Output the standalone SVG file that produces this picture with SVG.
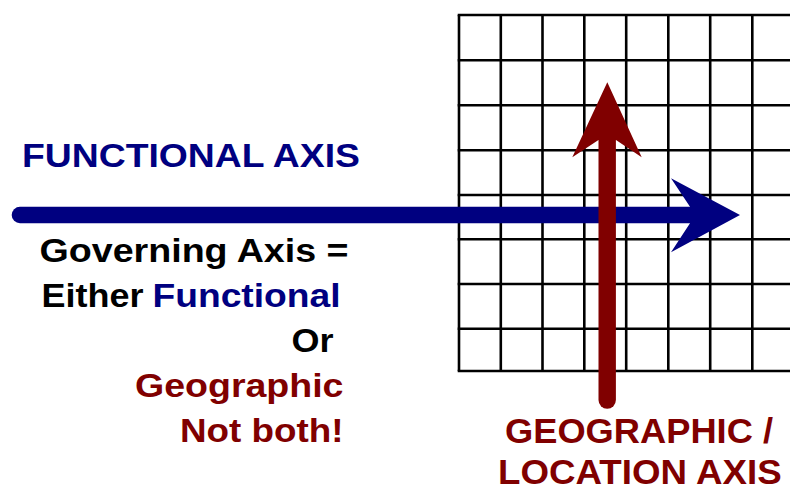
<svg xmlns="http://www.w3.org/2000/svg" width="790" height="490" viewBox="0 0 790 490">
<style>
.t{font-family:"Liberation Sans",Arial,sans-serif;font-weight:bold;}
.blue{fill:#000080;}
.red{fill:#800000;}
.blk{fill:#000000;}
.grid line{stroke:#000;stroke-width:2.6;}
</style>
<rect width="790" height="490" fill="#ffffff"/>
<g id="grid" class="grid">
<line x1="459" y1="15" x2="459" y2="371"/>
<line x1="500.8" y1="15" x2="500.8" y2="371"/>
<line x1="542.5" y1="15" x2="542.5" y2="371"/>
<line x1="584.3" y1="15" x2="584.3" y2="371"/>
<line x1="626.2" y1="15" x2="626.2" y2="371"/>
<line x1="668.3" y1="15" x2="668.3" y2="371"/>
<line x1="710.2" y1="15" x2="710.2" y2="371"/>
<line x1="752.3" y1="15" x2="752.3" y2="371"/>
<line x1="457.7" y1="15" x2="790" y2="15"/>
<line x1="457.7" y1="60.3" x2="790" y2="60.3"/>
<line x1="457.7" y1="105.3" x2="790" y2="105.3"/>
<line x1="457.7" y1="150.3" x2="790" y2="150.3"/>
<line x1="457.7" y1="195" x2="790" y2="195"/>
<line x1="457.7" y1="239.3" x2="790" y2="239.3"/>
<line x1="457.7" y1="284" x2="790" y2="284"/>
<line x1="457.7" y1="328.7" x2="790" y2="328.7"/>
<line x1="457.7" y1="371" x2="790" y2="371"/>
</g>
<g id="connectors">
<g id="functional-arrow">
<line x1="20" y1="215" x2="695" y2="215" stroke="#000080" stroke-width="16.6" stroke-linecap="round"/>
<polygon points="740,215 671,252.3 690,223.3 690,206.7 671,178.3" fill="#000080"/>
</g>
<g id="geographic-arrow">
<line x1="607.2" y1="400" x2="607.2" y2="135" stroke="#800000" stroke-width="17.4" stroke-linecap="round"/>
<polygon points="607.3,82.3 641.7,157.3 616,140 598.5,140 572.3,157.3" fill="#800000"/>
</g>
</g>
<g id="functional-label">
<text class="t blue" x="22" y="166.5" font-size="34" textLength="338" lengthAdjust="spacingAndGlyphs">FUNCTIONAL AXIS</text>
</g>
<g id="governing-note">
<text class="t blk" x="39.5" y="261.5" font-size="33.5" textLength="309" lengthAdjust="spacingAndGlyphs">Governing Axis =</text>
<text class="t blk" x="41.5" y="306.5" font-size="33.5" textLength="102" lengthAdjust="spacingAndGlyphs">Either</text>
<text class="t blue" x="152.5" y="306.5" font-size="33.5" textLength="188" lengthAdjust="spacingAndGlyphs">Functional</text>
<text class="t blk" x="291.5" y="351.5" font-size="33.5" textLength="42" lengthAdjust="spacingAndGlyphs">Or</text>
<text class="t red" x="135" y="396.5" font-size="33.5" textLength="208.5" lengthAdjust="spacingAndGlyphs">Geographic</text>
<text class="t red" x="180" y="441.5" font-size="33.5" textLength="163.5" lengthAdjust="spacingAndGlyphs">Not both!</text>
</g>
<g id="geographic-label">
<text class="t red" x="505" y="443" font-size="35.5" textLength="268" lengthAdjust="spacingAndGlyphs">GEOGRAPHIC /</text>
<text class="t red" x="498" y="484" font-size="34.5" textLength="283.7" lengthAdjust="spacingAndGlyphs">LOCATION AXIS</text>
</g>
</svg>
